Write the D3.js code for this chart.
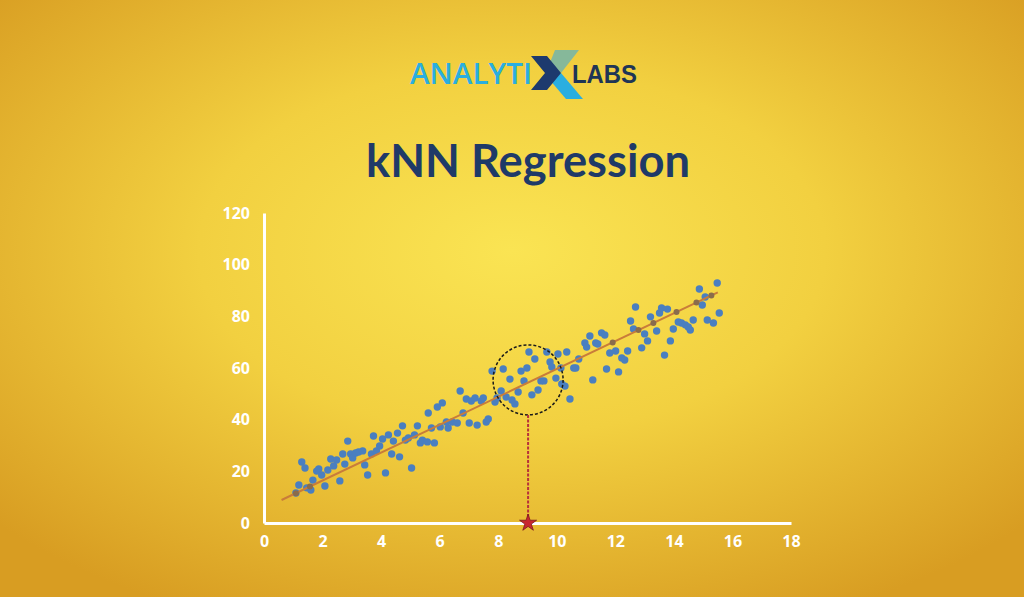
<!DOCTYPE html>
<html>
<head>
<meta charset="utf-8">
<script src="https://cdn.jsdelivr.net/npm/d3@7"></script>
<style>
  html, body { margin: 0; padding: 0; overflow: hidden; }
  svg { display: block; }
</style>
</head>
<body>
<div id="chart"></div>
<script>
// data
const xTicks = [0, 2, 4, 6, 8, 10, 12, 14, 16, 18];
const yTicks = [0, 20, 40, 60, 80, 100, 120];

const points = [
  [1.09, 11.6], [1.19, 14.7], [1.46, 13.6], [1.60, 12.8], [1.29, 23.6], [1.40, 21.3],
  [1.67, 16.6], [1.80, 20.1], [1.87, 20.9], [1.97, 18.6], [2.08, 14.3], [2.18, 20.5],
  [2.28, 24.8], [2.38, 22.1], [2.48, 24.4], [2.59, 16.3], [2.69, 26.7], [2.76, 22.8],
  [2.86, 31.7], [2.96, 26.7], [3.03, 25.2], [3.13, 27.1], [3.23, 27.5], [3.37, 27.9],
  [3.44, 22.5], [3.54, 18.6], [3.67, 26.7], [3.74, 33.7], [3.84, 27.9], [3.95, 29.8],
  [4.05, 32.5], [4.15, 19.4], [4.25, 34.1], [4.36, 26.7], [4.42, 31.7], [4.56, 34.8],
  [4.63, 25.6], [4.73, 37.6], [4.83, 32.1], [4.93, 32.9], [5.04, 21.3], [5.14, 34.1],
  [5.24, 37.6], [5.34, 31.0], [5.41, 32.1], [5.58, 31.4], [5.82, 31.0], [5.61, 42.6],
  [5.72, 36.8], [5.92, 44.9], [6.02, 37.2], [6.09, 46.5], [6.23, 39.1], [6.29, 36.8],
  [6.43, 39.1], [6.60, 38.7], [6.70, 51.1], [6.80, 42.6], [6.91, 48.0], [7.01, 38.7],
  [7.08, 47.2], [7.21, 48.4], [7.28, 37.9], [7.42, 47.2], [7.49, 48.4], [7.59, 39.1],
  [7.66, 40.3], [7.79, 58.8], [7.89, 46.8], [7.96, 48.4], [8.10, 51.1], [8.17, 59.6],
  [8.27, 48.8], [8.40, 55.7], [8.47, 47.6], [8.57, 46.1], [8.68, 50.7], [8.78, 58.8],
  [8.88, 55.0], [8.98, 60.0], [9.05, 66.2], [9.15, 49.6], [9.25, 63.5], [9.36, 51.5],
  [9.46, 55.0], [9.56, 55.0], [9.66, 66.2], [9.77, 62.3], [9.83, 60.4], [9.97, 56.1],
  [10.04, 65.4], [10.14, 60.0], [10.17, 53.8], [10.34, 66.2], [10.28, 53.0], [10.45, 48.0],
  [10.58, 60.0], [10.65, 60.0], [10.75, 63.5], [10.96, 69.7], [11.02, 68.1], [11.13, 72.4],
  [11.23, 55.4], [11.33, 69.7], [11.40, 69.3], [11.53, 73.6], [11.64, 72.8], [11.70, 59.6],
  [11.81, 65.8], [12.01, 66.6], [12.11, 58.5], [12.22, 63.9], [12.32, 63.1], [12.42, 66.6],
  [12.52, 78.2], [12.62, 75.1], [12.69, 83.6], [12.90, 67.8], [13.00, 73.2], [13.10, 70.5],
  [13.20, 79.8], [13.41, 74.3], [13.51, 81.3], [13.58, 83.2], [13.78, 82.8], [13.68, 65.0],
  [13.88, 70.5], [13.98, 75.1], [14.15, 77.8], [14.26, 77.4], [14.39, 76.7], [14.49, 75.9],
  [14.56, 74.7], [14.66, 78.6], [14.87, 90.6], [14.97, 84.4], [15.07, 87.5], [15.14, 78.6],
  [15.35, 77.4], [15.48, 92.9], [15.55, 81.3]
];

const fitLine = [[0.6, 8.9], [15.5, 89.3]];
const fitMarkers = [
  [1.09, 11.5], [1.57, 14.1], [11.91, 69.9], [12.79, 74.7],
  [13.30, 77.4], [14.09, 81.7], [14.77, 85.4], [15.28, 88.1]
];
const query = [9.02, 55.4];

const W = 1024, H = 597;
const margin = { top: 213, right: 234, bottom: 74, left: 264 };

const svg = d3.select("#chart")
  .append("svg")
  .attr("width", W)
  .attr("height", H);

// background
const defs = svg.append("defs");
const grad = defs.append("radialGradient")
  .attr("id", "bg")
  .attr("cx", "50%").attr("cy", "42%").attr("r", "68%");
grad.append("stop").attr("offset", "0%").attr("stop-color", "#fae453");
grad.append("stop").attr("offset", "45%").attr("stop-color", "#f2d040");
grad.append("stop").attr("offset", "100%").attr("stop-color", "#d89d22");
svg.append("rect").attr("width", W).attr("height", H).attr("fill", "url(#bg)");

// logo
const logo = svg.append("g");
logo.append("text")
  .attr("x", 410).attr("y", 84)
  .attr("textLength", 122).attr("lengthAdjust", "spacingAndGlyphs")
  .style("font-family", "'Open Sans', sans-serif")
  .style("font-weight", 600)
  .style("font-size", "29px")
  .style("fill", "#2aaee0")
  .text("ANALYTI");
logo.append("polygon")
  .attr("points", "555,50 579,50 561,73 549,65")
  .attr("fill", "#86b89a");
logo.append("polygon")
  .attr("points", "549,79 561,73 583,99 566,99")
  .attr("fill", "#2aaee0");
logo.append("polygon")
  .attr("points", "531,56 547,56 561,73 547,90 531,90 545,73")
  .attr("fill", "#1d3a6e");
logo.append("text")
  .attr("x", 572).attr("y", 83)
  .attr("textLength", 65).attr("lengthAdjust", "spacingAndGlyphs")
  .style("font-family", "'Liberation Sans', Arial, sans-serif")
  .style("font-weight", "bold")
  .style("font-size", "26px")
  .style("fill", "#1f3556")
  .text("LABS");

// title
svg.append("text")
  .attr("x", 366).attr("y", 177)
  .attr("textLength", 324).attr("lengthAdjust", "spacingAndGlyphs")
  .style("font-family", "Lato, 'Open Sans', sans-serif")
  .style("font-weight", "bold")
  .style("font-size", "46px")
  .style("fill", "#1f3a68")
  .text("kNN Regression");

// scales
const x = d3.scaleLinear().domain([0, 18]).range([margin.left, W - margin.right + 1]);
const y = d3.scaleLinear().domain([0, 120]).range([H - margin.bottom, margin.top]);

const labelStyle = (g) => g.selectAll("text")
  .style("font-family", "'Open Sans', sans-serif")
  .style("font-weight", "bold")
  .style("font-size", "16px")
  .style("fill", "#ffffff");

const xAxis = svg.append("g")
  .attr("transform", `translate(0,${y(0)})`)
  .call(d3.axisBottom(x).tickValues(xTicks).tickSize(0).tickPadding(13).tickFormat(d3.format("d")));
xAxis.select(".domain").attr("stroke", "#ffffff").attr("stroke-width", 3);
labelStyle(xAxis);

const yAxis = svg.append("g")
  .attr("transform", `translate(${x(0)},0)`)
  .call(d3.axisLeft(y).tickValues(yTicks).tickSize(0).tickPadding(14).tickFormat(d3.format("d")));
yAxis.select(".domain").attr("stroke", "#ffffff").attr("stroke-width", 3);
labelStyle(yAxis);

// scatter points
svg.append("g")
  .selectAll("circle")
  .data(points)
  .enter()
  .append("circle")
  .attr("cx", (d) => x(d[0]))
  .attr("cy", (d) => y(d[1]))
  .attr("r", 3.7)
  .style("fill", "#4a7fc0");

// regression line
svg.append("path")
  .datum(fitLine)
  .attr("d", d3.line().x((d) => x(d[0])).y((d) => y(d[1])))
  .attr("fill", "none")
  .attr("stroke", "#c97c3a")
  .attr("stroke-width", 2);

svg.append("g")
  .selectAll("circle")
  .data(fitMarkers)
  .enter()
  .append("circle")
  .attr("cx", (d) => x(d[0]))
  .attr("cy", (d) => y(d[1]))
  .attr("r", 3)
  .style("fill", "#8a6c4c");

// neighbourhood circle, drop line and star
const R = 35;
const qx = x(query[0]);
const qy = y(query[1]);

svg.append("circle")
  .attr("cx", qx).attr("cy", qy).attr("r", R)
  .attr("fill", "none")
  .attr("stroke", "#1a1a1a")
  .attr("stroke-width", 1.5)
  .attr("stroke-dasharray", "3,2");

svg.append("line")
  .attr("x1", qx).attr("x2", qx)
  .attr("y1", qy + R).attr("y2", y(0))
  .attr("stroke", "#b8323a")
  .attr("stroke-width", 2)
  .attr("stroke-dasharray", "3,1.5");

svg.append("path")
  .attr("d", d3.symbol(d3.symbolStar).size(90)())
  .attr("transform", `translate(${qx},${y(0)})`)
  .attr("fill", "#c8262f")
  .attr("stroke", "#7a1a1f")
  .attr("stroke-width", 0.8);
</script>
</body>
</html>
